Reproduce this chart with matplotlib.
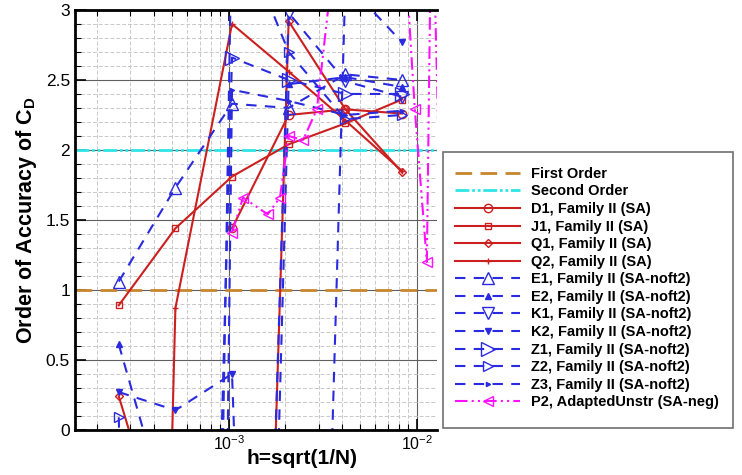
import numpy as np
import matplotlib
matplotlib.use("Agg")
import matplotlib.pyplot as plt
from matplotlib.patches import Rectangle
from matplotlib.ticker import MultipleLocator, LogLocator, NullFormatter, LogFormatterMathtext, FormatStrFormatter

plt.rcParams['font.family'] = ['Liberation Sans', 'DejaVu Sans']
plt.rcParams['mathtext.fontset'] = 'custom'
plt.rcParams['mathtext.rm'] = 'Liberation Sans'
plt.rcParams['mathtext.bf'] = 'Liberation Sans:bold'

# grid spacing h = sqrt(1/N) of the six mesh levels
h = np.array([2.6e-4, 5.2e-4, 1.04e-3, 2.08e-3, 4.17e-3, 8.33e-3])

# observed order of accuracy of CD, SA model
d1 = [np.nan, np.nan, 1.44, 2.25, 2.29, 2.26]
j1 = [0.89, 1.44, 1.81, 2.04, 2.19, 2.36]
q1 = [0.24, -1.1, -10.0, 2.92, 2.29, 1.84]
q2 = [-15.0, 0.87, 2.90, 2.56, 2.21, 1.85]

# SA-noft2
e1 = [1.06, 1.73, 2.33, 2.30, 2.54, 2.50]
e2 = [0.61, -0.8, -12.0, 2.47, 2.52, 2.45]
k1 = [np.nan, np.nan, -10.0, 2.98, 2.49, 2.38]
k2 = [0.27, 0.14, 0.40, -10.75, 3.2, 2.77]
z1 = [np.nan, -12.0, 2.66, 2.50, 2.40, 2.40]
z2 = [0.09, -20.0, 3.7, 2.70, 2.22, 2.25]
z3 = [np.nan, -30.0, 2.43, 2.35, 2.25, 2.28]

# adapted unstructured grids, SA-neg
h_p2 = [1.04e-3, 1.19e-3, 1.61e-3, 1.87e-3, 2.08e-3, 2.48e-3, 2.94e-3,
        6.35e-3, 9.75e-3, 1.13e-2, 1.2e-2, 1.43e-2]
p2 = [1.41, 1.66, 1.54, 1.66, 2.10, 2.07, 2.29, 6.3, 2.29, 1.2, 4.0, -0.1]

red = '#cc1f1f'
blue = '#2a2ae0'
mag = '#ff10ff'
dash = (0, (5, 4))

fig = plt.figure(figsize=(7.42, 4.75), dpi=100)
ax = fig.add_axes([0.101, 0.095, 0.488, 0.884])

ax.axhline(1.0, color='#c8862e', lw=2, ls=(0, (6, 3)), label='First Order')
ax.axhline(2.0, color='#2ee6e6', lw=2, ls=(0, (5, 1, 1, 1, 1, 1)), label='Second Order')

ax.plot(h, d1, color=red, lw=1.5, marker='o', ms=6, mfc='none', mec=red, label='D1, Family II (SA)')
ax.plot(h, j1, color=red, lw=1.5, marker='s', ms=5, mfc='none', mec=red, label='J1, Family II (SA)')
ax.plot(h, q1, color=red, lw=1.5, marker='D', ms=4.5, mfc='none', mec=red, label='Q1, Family II (SA)')
ax.plot(h, q2, color=red, lw=1.5, marker='+', ms=4, mec=red, label='Q2, Family II (SA)')

ax.plot(h, e1, color=blue, lw=1.5, ls=dash, marker='^', ms=8, mfc='none', mec=blue, label='E1, Family II (SA-noft2)')
ax.plot(h, e2, color=blue, lw=1.5, ls=dash, marker='^', ms=4, mfc=blue, mec=blue, label='E2, Family II (SA-noft2)')
ax.plot(h, k1, color=blue, lw=1.5, ls=dash, marker='v', ms=8, mfc='none', mec=blue, label='K1, Family II (SA-noft2)')
ax.plot(h, k2, color=blue, lw=1.5, ls=dash, marker='v', ms=4, mfc=blue, mec=blue, label='K2, Family II (SA-noft2)')
ax.plot(h, z1, color=blue, lw=1.5, ls=dash, marker='>', ms=10, mfc='none', mec=blue, label='Z1, Family II (SA-noft2)')
ax.plot(h, z2, color=blue, lw=1.5, ls=dash, marker='>', ms=7, mfc='none', mec=blue, label='Z2, Family II (SA-noft2)')
ax.plot(h, z3, color=blue, lw=1.5, ls=dash, marker='>', ms=3, mfc=blue, mec=blue, label='Z3, Family II (SA-noft2)')

ax.plot(h_p2, p2, color=mag, lw=1.5, ls=(0, (6, 2, 1, 2, 1, 2)), marker='<', ms=7, mfc='none', mec=mag,
        label='P2, AdaptedUnstr (SA-neg)')

ax.set_xscale('log')
ax.set_xlim(1.52e-4, 1.28e-2)
ax.set_ylim(0, 3)

ax.yaxis.set_major_locator(MultipleLocator(0.5))
ax.yaxis.set_minor_locator(MultipleLocator(0.1))
ax.yaxis.set_major_formatter(FormatStrFormatter('%g'))
ax.xaxis.set_major_locator(LogLocator(base=10))
ax.xaxis.set_minor_locator(LogLocator(base=10, subs=np.arange(2, 10)))
ax.xaxis.set_major_formatter(LogFormatterMathtext())
ax.xaxis.set_minor_formatter(NullFormatter())

ax.grid(which='major', color='#606060', lw=0.8)
ax.grid(which='minor', color='#c8c8c8', lw=0.7, ls=(0, (4, 2)))
ax.set_axisbelow(True)

ax.tick_params(which='major', direction='in', length=8, width=1.2, labelsize=12.5, top=True, right=False)
ax.tick_params(which='minor', direction='in', length=4, width=0.8, top=True, right=False)
ax.tick_params(axis='x', pad=3, labelsize=11.5)
for s in ['left', 'bottom', 'top']:
    ax.spines[s].set_linewidth(2)
ax.spines['right'].set_visible(False)

ax.set_xlabel('h=sqrt(1/N)', fontsize=15, fontweight='bold')
ax.xaxis.set_label_coords(0.627, -0.045)
ax.set_ylabel(r'Order of Accuracy of C$_\mathbf{D}$', fontsize=15.5, fontweight='bold')
ax.yaxis.set_label_coords(-0.10, 0.5)

# legend sits outside the axes in its own box
fig.patches.append(Rectangle((0.597, 0.099), 0.391, 0.581, transform=fig.transFigure, zorder=-1,
                             fill=True, facecolor='white', edgecolor='#707070', lw=1.2))
leg = ax.legend(loc='upper left', bbox_to_anchor=(0.604, 0.664), bbox_transform=fig.transFigure,
                prop={'weight': 'bold', 'size': 10.5}, frameon=False,
                handlelength=4.4, handletextpad=0.8, labelspacing=0.245, borderpad=0.0)

fig.savefig('out.png', dpi=100)
